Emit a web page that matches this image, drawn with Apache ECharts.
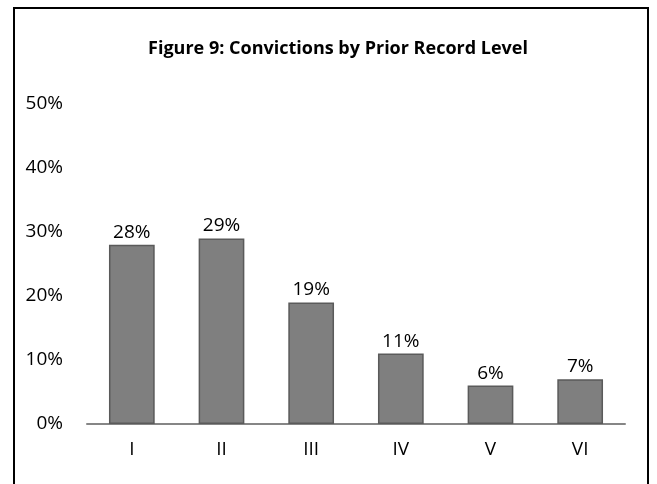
<!DOCTYPE html>
<html>
<head>
<meta charset="utf-8">
<script src="https://cdn.jsdelivr.net/npm/echarts@6/dist/echarts.min.js"></script>
<style>
  html, body { margin: 0; padding: 0; background: #fff; }
  #frame { position: absolute; left: 13px; top: 7px; width: 636px; height: 500px; border: 2px solid #000; box-sizing: border-box; }
  #chart { position: absolute; left: 0; top: 0; width: 657px; height: 484px; }
</style>
</head>
<body>
<div id="frame"></div>
<div id="chart"></div>
<script>
// prior record level
const categories = ['I', 'II', 'III', 'IV', 'V', 'VI'];
const values = [28, 29, 19, 11, 6, 7];
const yTicks = [0, 10, 20, 30, 40, 50];

const chart = echarts.init(document.getElementById('chart'));
const font = '"Open Sans", "Liberation Sans", sans-serif';

const option = {
    animation: false,
    title: {
        text: 'Figure 9: Convictions by Prior Record Level',
        left: 333, top: 35, textAlign: 'center',
        textStyle: { fontFamily: font, fontSize: 18, fontWeight: 'bold', color: '#000' }
    },
    grid: { left: 87, right: 32, top: 104, bottom: 60 },
    xAxis: {
        type: 'category',
        data: categories,
        axisLine: { lineStyle: { color: '#868686', width: 2 } },
        axisTick: { show: false },
        axisLabel: { fontFamily: font, fontSize: 19, color: '#000', margin: 16 }
    },
    yAxis: {
        type: 'value',
        min: yTicks[0], max: yTicks[yTicks.length - 1], interval: 10,
        splitLine: { show: false },
        axisLine: { show: false },
        axisTick: { show: false },
        axisLabel: {
            fontFamily: font, fontSize: 19, color: '#000', margin: 24,
            formatter: v => v + '%'
        }
    },
    series: [{
        type: 'bar',
        data: values,
        barWidth: '51%',
        itemStyle: { color: '#7f7f7f', borderColor: '#5a5a5a', borderWidth: 1.5 },
        label: {
            show: true, position: 'top', distance: 3,
            fontFamily: font, fontSize: 19, color: '#000',
            formatter: p => p.value + '%'
        }
    }]
};
chart.setOption(option);
</script>
</body>
</html>
